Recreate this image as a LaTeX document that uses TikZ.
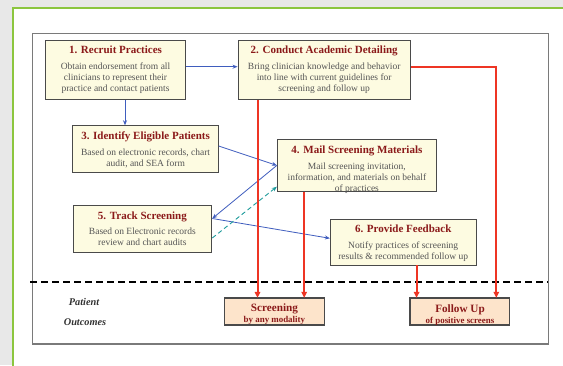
\documentclass[tikz,border=0pt]{standalone}
\usepackage{fontspec}
\setmainfont{Liberation Serif}
\usetikzlibrary{arrows.meta}
\definecolor{bggray}{HTML}{E8E8E8}
\definecolor{panelgreen}{HTML}{8CC63F}
\definecolor{framegray}{HTML}{7A7A7A}
\definecolor{boxfill}{HTML}{FDFBE1}
\definecolor{boxline}{HTML}{4A4A4A}
\definecolor{titlered}{HTML}{8B1A1A}
\definecolor{bodygray}{HTML}{555555}
\definecolor{outfill}{HTML}{FDE4CB}
\definecolor{bluearr}{HTML}{3F5DBE}
\definecolor{tealarr}{HTML}{1F9C9C}
\definecolor{redarr}{HTML}{EE3524}
\definecolor{labelgray}{HTML}{333333}
\begin{document}
\begin{tikzpicture}[x=1pt,y=-1pt,
  stepbox/.style={draw=boxline,line width=0.9pt,fill=boxfill,inner sep=0pt},
  outbox/.style={draw=boxline,line width=0.9pt,fill=outfill,inner sep=0pt},
  titletext/.style={anchor=base,inner sep=0pt,text=titlered,font=\fontsize{11}{13}\selectfont\bfseries},
  bodytext/.style={anchor=north,inner sep=0pt,text=bodygray,align=center,font=\fontsize{9.5}{11.2}\selectfont},
  outtitle/.style={anchor=base,inner sep=0pt,text=titlered,font=\fontsize{11.2}{13}\selectfont\bfseries},
  outsub/.style={anchor=base,inner sep=0pt,text=titlered,font=\fontsize{8.9}{10}\selectfont\bfseries},
  sidelabel/.style={anchor=base,inner sep=0pt,text=labelgray,font=\fontsize{10.3}{12}\selectfont\bfseries\itshape},
  bluearrow/.style={draw=bluearr,line width=0.8pt,-{Stealth[length=5pt,width=4pt]}},
  tealarrow/.style={draw=tealarr,line width=0.9pt,dash pattern=on 4.5pt off 3pt,-{Stealth[length=5pt,width=4pt]}},
  redarrow/.style={draw=redarr,line width=2pt,-{Triangle[length=6pt,width=5.5pt]}},
  divider/.style={draw=black,line width=1.5pt,dash pattern=on 7pt off 4pt}
]
\useasboundingbox (0,0) rectangle (563,365);
\fill[bggray] (0,0) rectangle (563,365);
\draw[panelgreen,line width=2.2pt,fill=white] (13,8) rectangle (580,380);
\draw[framegray,line width=1.2pt] (32.7,33.5) rectangle (548.5,344);

% step boxes
\node[stepbox,minimum width=139.7pt,minimum height=59.3pt] (b1) at (115.5,69.7) {};
\node[stepbox,minimum width=172.4pt,minimum height=59.3pt] (b2) at (324.2,69.7) {};
\node[stepbox,minimum width=145.4pt,minimum height=46.6pt] (b3) at (145.6,149) {};
\node[stepbox,minimum width=159.2pt,minimum height=51.3pt] (b4) at (356.9,165.4) {};
\node[stepbox,minimum width=138.9pt,minimum height=47pt] (b5) at (142.4,228.8) {};
\node[stepbox,minimum width=145.8pt,minimum height=46pt] (b6) at (403.2,242) {};

\node[titletext] (t1) at ([yshift=-14.3pt]b1.north) {1. Recruit Practices};
\node[bodytext] (d1) at ([yshift=-23pt]b1.north) {Obtain endorsement from all\\clinicians to represent their\\practice and contact patients};
\node[titletext] (t2) at ([yshift=-14.3pt]b2.north) {2. Conduct Academic Detailing};
\node[bodytext] (d2) at ([yshift=-23pt]b2.north) {Bring clinician knowledge and behavior\\into line with current guidelines for\\screening and follow up};
\node[titletext] (t3) at ([yshift=-14.3pt]b3.north) {3. Identify Eligible Patients};
\node[bodytext] (d3) at ([yshift=-23pt]b3.north) {Based on electronic records, chart\\audit, and SEA form};
\node[titletext] (t4) at ([yshift=-14.3pt]b4.north) {4. Mail Screening Materials};
\node[bodytext] (d4) at ([yshift=-23pt]b4.north) {Mail screening invitation,\\information, and materials on behalf\\of practices};
\node[titletext] (t5) at ([yshift=-14.3pt]b5.north) {5. Track Screening};
\node[bodytext] (d5) at ([yshift=-23pt]b5.north) {Based on Electronic records\\review and chart audits};
\node[titletext] (t6) at ([yshift=-14.3pt]b6.north) {6. Provide Feedback};
\node[bodytext] (d6) at ([yshift=-23pt]b6.north) {Notify practices of screening\\results \& recommended follow up};

% divider
\coordinate (dl) at (30,282);
\coordinate (dr) at (548,282);
\draw[divider] (dl) -- (dr);

% outcome boxes
\node[outbox,minimum width=99.8pt,minimum height=26.2pt] (sc) at (274.4,311.4) {};
\node[outbox,minimum width=99.3pt,minimum height=26.2pt] (fu) at (459.7,311.4) {};
\node[outtitle] (sct) at (274.4,311.7) {Screening};
\node[outsub] (scs) at (274.4,322.9) {by any modality};
\node[outtitle] (fut) at (460,312.3) {Follow Up};
\node[outsub] (fus) at (460,323.3) {of positive screens};
\draw[boxline,line width=0.9pt] (sc.south west) rectangle (sc.north east);
\draw[boxline,line width=0.9pt] (fu.south west) rectangle (fu.north east);

\node[sidelabel] (pl) at (84,305.7) {Patient};
\node[sidelabel] (ol) at (85,325) {Outcomes};

% blue connectors
\draw[bluearrow] ([yshift=3pt]b1.east) -- ([yshift=3pt]b1.east -| b2.west);
\draw[bluearrow] ([xshift=9.5pt]b1.south) -- ([xshift=9.5pt]b1.south |- b3.north);
\draw[bluearrow] ([yshift=3pt]b3.east) -- (b4.west);
\draw[bluearrow] (b4.west) -- ([yshift=10.3pt]b5.east);
\draw[bluearrow] ([yshift=10.3pt]b5.east) -- ([yshift=3.7pt]b6.west);
\draw[tealarrow] ([yshift=-9.2pt]b5.east) -- ([yshift=-21.3pt]b4.west);

% red connectors
\draw[redarrow] ([xshift=-66.7pt]b2.south) -- ([xshift=-66.7pt]b2.south |- sc.north);
\draw[redarrow] ([xshift=-52.7pt]b4.south) -- ([xshift=-52.7pt]b4.south |- sc.north);
\coordinate (rc) at (496.3,66.9);
\draw[redarrow] ([yshift=2.8pt]b2.east) -- (rc) -- (rc |- fu.north);
\draw[redarrow] ([xshift=13.4pt]b6.south) -- ([xshift=13.4pt]b6.south |- fu.north);
\end{tikzpicture}
\end{document}
